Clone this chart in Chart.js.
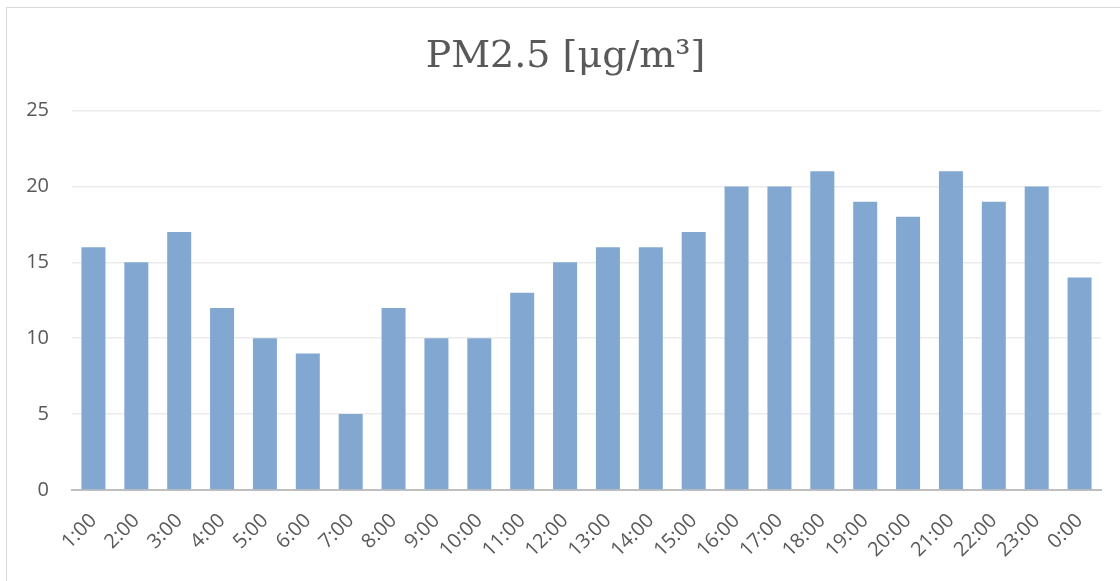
<!DOCTYPE html>
<html>
<head>
<meta charset="utf-8">
<script src="https://cdn.jsdelivr.net/npm/chart.js@4/dist/chart.umd.min.js"></script>
<style>
html,body{margin:0;padding:0;background:#fff;}
canvas{display:block;}
</style>
</head>
<body>
<canvas id="c" width="1120" height="581"></canvas>
<script>
const categories = ["1:00","2:00","3:00","4:00","5:00","6:00","7:00","8:00","9:00","10:00","11:00","12:00","13:00","14:00","15:00","16:00","17:00","18:00","19:00","20:00","21:00","22:00","23:00","0:00"];
const pm25 = [16,15,17,12,10,9,5,12,10,10,13,15,16,16,17,20,20,21,19,18,21,19,20,14];
const titleText = "PM2.5 [μg/m³]";

const framePlugin = {
  id: 'frame',
  beforeDraw(chart) {
    const ctx = chart.ctx;
    ctx.save();
    ctx.fillStyle = '#fff';
    ctx.fillRect(0, 0, chart.width, chart.height);
    ctx.strokeStyle = '#d9d9d9';
    ctx.lineWidth = 1;
    ctx.strokeRect(6.5, 7.5, 1130, 600);
    ctx.restore();
  },
  afterLayout(chart) {
    // shift the title centre to match the reference
    const t = chart.titleBlock;
    if (t) { t.left += 15; t.right += 15; }
  }
};

new Chart(document.getElementById('c'), {
  type: 'bar',
  data: {
    labels: categories,
    datasets: [{
      data: pm25,
      backgroundColor: '#82a8d2',
      borderWidth: 0,
      categoryPercentage: 1.0,
      barPercentage: 0.56
    }]
  },
  options: {
    responsive: false,
    animation: false,
    layout: { padding: { left: 0, right: 19, top: 0, bottom: 0 } },
    plugins: {
      legend: { display: false },
      tooltip: { enabled: false },
      title: {
        display: true,
        text: titleText,
        color: '#595959',
        font: { family: 'DejaVu Serif', size: 38, weight: 'normal', lineHeight: 1.2 },
        padding: { top: 34, bottom: 31 }
      }
    },
    scales: {
      x: {
        grid: { display: false, drawTicks: false },
        border: { display: true, color: '#bfbfbf', width: 2 },
        ticks: {
          color: '#595959',
          font: { family: 'Open Sans', size: 20 },
          minRotation: 45,
          maxRotation: 45,
          padding: 19,
          autoSkip: false
        },
        afterFit(scale) { scale.height = 91; }
      },
      y: {
        min: 0,
        max: 25,
        grid: {
          drawTicks: false,
          color: (c) => c.tick && c.tick.value === 0 ? 'rgba(0,0,0,0)' : '#ebebeb',
          lineWidth: 1.5
        },
        border: { display: false },
        ticks: {
          stepSize: 5,
          color: '#595959',
          font: { family: 'Open Sans', size: 20 },
          padding: 23
        },
        afterFit(scale) { scale.width = 72; }
      }
    }
  },
  plugins: [framePlugin]
});
</script>
</body>
</html>
